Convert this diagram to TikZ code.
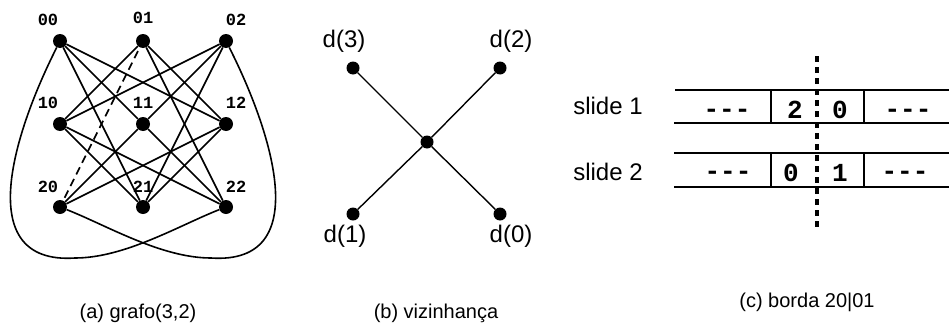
\documentclass[tikz,border=0pt]{standalone}
\usepackage{fontspec}
\setmainfont{Liberation Sans}
\newfontfamily\monofnt{Liberation Mono}
\begin{document}
\begin{tikzpicture}[x=1pt,y=-1pt,
  dot/.style={circle,fill=black,inner sep=0pt,minimum size=14pt},
  sdot/.style={circle,fill=black,inner sep=0pt,minimum size=13pt},
  edge/.style={line width=1.6pt},
  xedge/.style={line width=1.4pt},
  vlabel/.style={inner sep=0pt,font=\monofnt\bfseries\fontsize{17}{20}\selectfont},
  dlabel/.style={inner sep=0pt,font=\fontsize{24}{28}\selectfont},
  caption/.style={inner sep=0pt,font=\fontsize{20}{24}\selectfont},
  celltext/.style={inner sep=0pt,font=\monofnt\bfseries\fontsize{26}{30}\selectfont},
  rowline/.style={line width=2.6pt},
  cut/.style={line width=4pt,dash pattern=on 5.5pt off 5.5pt}]
\useasboundingbox[fill=white] (0,0) rectangle (949,332);

% ---------- (a) grafo(3,2)
\foreach \r/\y in {0/41,1/124,2/207}{
  \foreach \c/\x in {0/60,1/143,2/226}{
    \node[dot] (n\r\c) at (\x,\y) {};
  }
}
\node[vlabel] (l00) at (48,19.5) {00};
\node[vlabel] (l01) at (143,18) {01};
\node[vlabel] (l02) at (236,19.5) {02};
\node[vlabel] (l10) at (48,103) {10};
\node[vlabel] (l11) at (143,103) {11};
\node[vlabel] (l12) at (236,103) {12};
\node[vlabel] (l20) at (48,187) {20};
\node[vlabel] (l21) at (143,187) {21};
\node[vlabel] (l22) at (236,187) {22};

\foreach \a/\b in {00/11,00/12,00/21,01/10,01/12,01/22,02/10,02/11,02/21,
                   10/21,10/22,11/20,11/22,12/20,12/21}{
  \draw[edge] (n\a) -- (n\b);
}
\draw[edge,dash pattern=on 8pt off 5pt,shorten <=4pt] (n01) -- (n20);
\coordinate (cl) at (75,258);
\coordinate (cr) at (211,258);
\draw[edge] (n00) .. controls (15,130) and (-30,265) .. (cl)
                  .. controls (125,258) and (180,225) .. (n22);
\draw[edge] (n02) .. controls (271,130) and (316,265) .. (cr)
                  .. controls (161,258) and (106,225) .. (n20);

\node[caption] (capa) at (138,313.5) {(a) grafo(3,2)};

% ---------- (b) vizinhança
\node[sdot] (c) at (427,142) {};
\node[sdot] (d3) at (353,68) {};
\node[sdot] (d2) at (500,68) {};
\node[sdot] (d1) at (353,214) {};
\node[sdot] (d0) at (500,214) {};
\draw[xedge] (d3) -- (c) -- (d0);
\draw[xedge] (d2) -- (c) -- (d1);
\node[dlabel] (ld3) at (344,41) {d(3)};
\node[dlabel] (ld2) at (511,41) {d(2)};
\node[dlabel] (ld1) at (345,236) {d(1)};
\node[dlabel] (ld0) at (511,236) {d(0)};
\node[caption] (capb) at (436,313) {(b) vizinhança};

% ---------- (c) borda 20|01
\node[dlabel] (s1) at (608,105.5) {slide 1};
\node[dlabel] (s2) at (608,171.5) {slide 2};
% rows
\draw[rowline] (675,90) -- (949,90);
\draw[rowline] (674,123) -- (949,123);
\draw[rowline] (674,153) -- (949,153);
\draw[rowline] (674,187) -- (949,187);
\draw[rowline] (771,90) -- (771,123);
\draw[rowline] (864,90) -- (864,123);
\draw[rowline] (771,153) -- (771,187);
\draw[rowline] (864,153) -- (864,187);
% cell texts
\node[celltext] (r1a) at (727,108.5) {\vphantom{0}---};
\node[celltext] (r1b) at (795,110) {2};
\node[celltext] (r1c) at (840,110) {0};
\node[celltext] (r1d) at (908,108.5) {\vphantom{0}---};
\node[celltext] (r2a) at (728,171) {\vphantom{0}---};
\node[celltext] (r2b) at (791,172.5) {0};
\node[celltext] (r2c) at (840,172.5) {1};
\node[celltext] (r2d) at (905,171) {\vphantom{0}---};
% cut line
\draw[cut] (817,56) -- (817,228);
\node[caption] (capc) at (807,302.5) {(c) borda 20|01};
\end{tikzpicture}
\end{document}
